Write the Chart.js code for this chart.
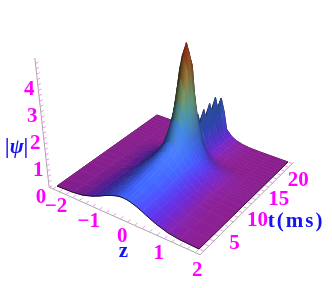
<!DOCTYPE html>
<html>
<head>
<meta charset="utf-8">
<style>
  html, body { margin: 0; background: #fff; }
  canvas { display: block; }
</style>
<script src="https://cdn.jsdelivr.net/npm/chart.js@4"></script>
</head>
<body>
<canvas id="mainChart" width="332" height="288"></canvas>
<script>
var zValues = [-2, -1.5, -1.2, -0.9, -0.7, -0.5, -0.35, -0.2, -0.1, 0, 0.1, 0.2, 0.35, 0.5, 0.7, 0.9, 1.2, 1.5, 2];
var tValues = [0, 2, 4, 6, 7, 8, 9, 10, 10.5, 11, 11.5, 12, 12.5, 13, 13.5, 14, 14.7, 15.3, 16, 16.65, 17.3, 17.95, 18.6, 19.3, 20];

// |psi|, one row per t, one column per z
var heights = [
  [0, .03, .09, .22, .34, .48, .57, .64, .67, .68, .67, .64, .57, .48, .34, .22, .09, .03, 0],
  [0, .03, .09, .22, .35, .50, .60, .68, .71, .72, .71, .68, .60, .50, .35, .22, .09, .03, 0],
  [0, .02, .07, .20, .35, .52, .64, .73, .77, .78, .77, .73, .64, .52, .35, .20, .07, .02, 0],
  [0, .02, .07, .20, .36, .56, .70, .82, .87, .88, .87, .82, .70, .56, .36, .20, .07, .02, 0],
  [0, .01, .05, .19, .36, .58, .74, .88, .93, .95, .93, .88, .74, .58, .36, .19, .05, .01, 0],
  [0, .01, .04, .15, .33, .58, .79, .96, 1.03, 1.05, 1.03, .96, .79, .58, .33, .15, .04, .01, 0],
  [0, .02, .06, .20, .36, .60, .84, 1.11, 1.25, 1.3, 1.25, 1.11, .84, .60, .36, .20, .06, .02, 0],
  [0, .02, .06, .20, .36, .62, .96, 1.5, 1.87, 2.0, 1.87, 1.5, .96, .62, .36, .20, .06, .02, 0],
  [0, .02, .06, .20, .36, .61, 1.0, 1.72, 2.35, 2.6, 2.35, 1.72, 1.0, .61, .36, .20, .06, .02, 0],
  [0, .02, .06, .20, .36, .62, 1.05, 2.0, 2.95, 3.3, 2.95, 2.0, 1.05, .62, .36, .20, .06, .02, 0],
  [0, .02, .06, .19, .33, .60, 1.1, 2.45, 3.6, 4.05, 3.6, 2.45, 1.1, .60, .33, .19, .06, .02, 0],
  [0, .02, .06, .18, .31, .56, 1.1, 2.6, 4.0, 4.5, 4.0, 2.6, 1.1, .56, .31, .18, .06, .02, 0],
  [0, .01, .05, .16, .27, .50, 1.0, 2.35, 3.65, 4.1, 3.65, 2.35, 1.0, .50, .27, .16, .05, .01, 0],
  [0, .01, .04, .13, .22, .43, .85, 1.8, 2.65, 3.0, 2.65, 1.8, .85, .43, .22, .13, .04, .01, 0],
  [0, .01, .03, .09, .15, .30, .62, 1.25, 1.8, 2.0, 1.8, 1.25, .62, .30, .15, .09, .03, .01, 0],
  [0, 0, .02, .06, .11, .22, .43, .87, 1.2, 1.35, 1.2, .87, .43, .22, .11, .06, .02, 0, 0],
  [0, 0, 0, .01, .04, .10, .20, .40, 1.05, 1.5, 1.05, .40, .20, .10, .04, .01, 0, 0, 0],
  [0, 0, 0, .01, .04, .09, .18, .33, .75, 1.05, .75, .33, .18, .09, .04, .01, 0, 0, 0],
  [0, 0, 0, .01, .04, .10, .20, .40, 1.05, 1.5, 1.05, .40, .20, .10, .04, .01, 0, 0, 0],
  [0, 0, 0, .01, .04, .09, .18, .33, .75, 1.05, .75, .33, .18, .09, .04, .01, 0, 0, 0],
  [0, 0, 0, .01, .04, .10, .20, .41, 1.08, 1.55, 1.08, .41, .20, .10, .04, .01, 0, 0, 0],
  [0, 0, 0, .01, .04, .09, .18, .33, .78, 1.1, .78, .33, .18, .09, .04, .01, 0, 0, 0],
  [0, 0, 0, .01, .04, .10, .20, .42, 1.12, 1.6, 1.12, .42, .20, .10, .04, .01, 0, 0, 0],
  [0, 0, 0, .01, .04, .09, .18, .33, .78, 1.1, .78, .33, .18, .09, .04, .01, 0, 0, 0],
  [0, 0, 0, .01, .04, .10, .20, .38, .98, 1.4, .98, .38, .20, .10, .04, .01, 0, 0, 0]
];

var zTicks = [-2, -1, 0, 1, 2];
var tTicks = [5, 10, 15, 20];
var psiTicks = [0, 1, 2, 3, 4];

// colour of the surface by height, before shading
var heightStops = [
  [0, 139, 31, 143], [0.25, 92, 40, 205], [0.7, 60, 95, 250], [1.3, 72, 130, 250],
  [1.9, 70, 160, 215], [2.5, 115, 185, 130], [3.1, 170, 165, 75], [3.8, 175, 95, 35], [4.6, 150, 25, 25]
];

// floor corners on the page: (-2,0) (2,0) (2,20) (-2,20)
var corners = [[57, 186], [199, 249], [288, 162], [157, 115]];
var vanish = [170, 1280];
var heightScale = 0.0246;

var x0 = corners[0][0], y0 = corners[0][1], x1 = corners[1][0], y1 = corners[1][1],
  x2 = corners[2][0], y2 = corners[2][1], x3 = corners[3][0], y3 = corners[3][1];
var dx3 = x0 - x1 + x2 - x3, dy3 = y0 - y1 + y2 - y3,
  dx1 = x1 - x2, dx2 = x3 - x2, dy1 = y1 - y2, dy2 = y3 - y2,
  den = dx1 * dy2 - dx2 * dy1,
  g = (dx3 * dy2 - dx2 * dy3) / den,
  h = (dx1 * dy3 - dx3 * dy1) / den;

function project (z, t, psi) {
  var u = (z + 2) / 4, v = t / 20;
  var w = g * u + h * v + 1;
  var bx = ((x1 - x0 + g * x1) * u + (x3 - x0 + h * x3) * v + x0) / w;
  var by = ((y1 - y0 + g * y1) * u + (y3 - y0 + h * y3) * v + y0) / w;
  var k = (psi || 0) * heightScale;
  return {x: bx + (bx - vanish[0]) * k, y: by + (by - vanish[1]) * k};
}

function baseColor (psi) {
  for (var i = 1; i < heightStops.length; i++) {
    if (psi <= heightStops[i][0]) {
      var a = heightStops[i - 1], b = heightStops[i];
      var f = (psi - a[0]) / (b[0] - a[0]);
      return [a[1] + (b[1] - a[1]) * f, a[2] + (b[2] - a[2]) * f, a[3] + (b[3] - a[3]) * f];
    }
  }
  var last = heightStops[heightStops.length - 1];
  return [last[1], last[2], last[3]];
}

function vertexColor (i, j) {
  var row = heights[i];
  var jl = Math.max(j - 1, 0), jr = Math.min(j + 1, zValues.length - 1);
  var il = Math.max(i - 1, 0), ir = Math.min(i + 1, tValues.length - 1);
  var dz = (row[jr] - row[jl]) / (zValues[jr] - zValues[jl]) * 4 / 4.8;
  var dt = (heights[ir][j] - heights[il][j]) / (tValues[ir] - tValues[il]) * 20 / 4.8;
  var len = Math.sqrt(dz * dz + dt * dt + 1);
  // light comes from the +z, -t side
  var dot = (-dz * 0.5 + dt * 0.3 + 0.8) / len;
  var shade = 0.3 + 0.7 * Math.min(Math.max(dot, 0) / 0.8, 1.15);
  // the small spikes behind the peak have dark tips
  if (tValues[i] > 14) {
    var up = i === tValues.length - 1 ? heights[i - 1][j] : heights[i + 1][j];
    var bend = up + heights[i - 1][j] - 2 * row[j];
    if (bend < 0) {
      shade *= Math.max(1 + bend * 0.85, 0.22);
    }
  }
  return baseColor(row[j]).map(function (c) { return Math.min(255, c * shade); });
}

function mix (a, b) {
  return [(a[0] + b[0]) / 2, (a[1] + b[1]) / 2, (a[2] + b[2]) / 2];
}

function css (c) {
  return 'rgb(' + Math.round(c[0]) + ',' + Math.round(c[1]) + ',' + Math.round(c[2]) + ')';
}

var ctx = document.getElementById('mainChart');
var ctx2d = ctx.getContext('2d');
var datasets = [];

function addLine (points, color, width) {
  datasets.push({
    data: points,
    showLine: true,
    fill: false,
    borderColor: color,
    borderWidth: width,
    pointRadius: 0,
    tension: 0
  });
}

function edge (fn, count) {
  var pts = [];
  for (var n = 0; n < count; n++) {
    pts.push(fn(n));
  }
  return pts;
}

// gradient across a quad, its colour lines running along the t edges
function quadGradient (p00, p10, p11, p01) {
  var mx0 = (p00.x + p01.x) / 2, my0 = (p00.y + p01.y) / 2;
  var mx1 = (p10.x + p11.x) / 2, my1 = (p10.y + p11.y) / 2;
  var ex = p01.x - p00.x + p11.x - p10.x, ey = p01.y - p00.y + p11.y - p10.y;
  var nx = -ey, ny = ex;
  var nn = nx * nx + ny * ny;
  var s = ((mx1 - mx0) * nx + (my1 - my0) * ny) / nn;
  if (!isFinite(s) || Math.abs(s) * Math.sqrt(nn) < 0.05) {
    return ctx2d.createLinearGradient(mx0, my0, mx1 + 0.01, my1 + 0.01);
  }
  return ctx2d.createLinearGradient(mx0, my0, mx0 + nx * s, my0 + ny * s);
}

// back edges go first so the peak covers them
addLine(edge(function (i) {
  return project(-2, tValues[i], heights[i][0]);
}, tValues.length), '#2a1030', 1);
addLine(edge(function (j) {
  return project(zValues[j], 20, heights[tValues.length - 1][j]);
}, zValues.length), '#2a1030', 1);

for (var i = tValues.length - 2; i >= 0; i--) {
  for (var j = 0; j < zValues.length - 1; j++) {
    var za = zValues[j], zb = zValues[j + 1], ta = tValues[i], tb = tValues[i + 1];
    var p00 = project(za, ta, heights[i][j]);
    var p10 = project(zb, ta, heights[i][j + 1]);
    var p11 = project(zb, tb, heights[i + 1][j + 1]);
    var p01 = project(za, tb, heights[i + 1][j]);
    var grad = quadGradient(p00, p10, p11, p01);
    grad.addColorStop(0, css(mix(vertexColor(i, j), vertexColor(i + 1, j))));
    grad.addColorStop(1, css(mix(vertexColor(i, j + 1), vertexColor(i + 1, j + 1))));
    datasets.push({
      data: [p00, p10, p11, p01, p00],
      showLine: true,
      fill: 'shape',
      backgroundColor: grad,
      borderColor: grad,
      borderWidth: 0.7,
      pointRadius: 0,
      tension: 0
    });
  }
}

// front edges
addLine(edge(function (j) {
  return project(zValues[j], 0, heights[0][j]);
}, zValues.length), '#1c0c28', 1);
addLine(edge(function (i) {
  return project(2, tValues[i], heights[i][zValues.length - 1]);
}, tValues.length), '#2a1030', 1);

// axis lines, a bit outside the floor
var axisZ = 2.12, axisT = -0.7, axisLeft = -2.12;
addLine([project(axisLeft, axisT, 0), project(axisZ, axisT, 0), project(axisZ, 20.3, 0)], '#a8a8a8', 1);
addLine([project(axisLeft, axisT, 0), project(axisLeft, axisT, 4.8)], '#a8a8a8', 1);

var tickMarks = [], n, a, b;
for (n = -2; n <= 2.001; n += 0.2) {
  a = project(n, axisT, 0);
  b = project(n, axisT + 0.55, 0);
  tickMarks.push(a, b, {x: NaN, y: NaN});
}
for (n = 0; n <= 20; n += 1) {
  a = project(axisZ, n, 0);
  b = project(axisZ - 0.1, n, 0);
  tickMarks.push(a, b, {x: NaN, y: NaN});
}
for (n = 0; n <= 4.8; n += 0.2) {
  a = project(axisLeft, axisT, n);
  b = {x: a.x + 3, y: a.y - 1.5};
  tickMarks.push(a, b, {x: NaN, y: NaN});
}
addLine(tickMarks, '#f090f0', 1);

datasets.reverse();

var magenta = '#ff00ff', blue = '#1414f0';

function label (chart, text, point, dx, dy, font, color, spacing) {
  var c = chart.ctx;
  c.font = font;
  c.fillStyle = color;
  c.textAlign = 'center';
  c.textBaseline = 'middle';
  c.letterSpacing = spacing || '0px';
  c.fillText(text, chart.scales.x.getPixelForValue(point.x) + dx, chart.scales.y.getPixelForValue(point.y) + dy);
}

var tickFont = 'bold 21px "Liberation Serif"';

var labels = {
  id: 'labels',
  afterDraw: function (chart) {
    zTicks.forEach(function (z) {
      label(chart, z < 0 ? '\u2212' + (-z) : String(z), project(z, axisT, 0), z < 0 ? 3 : 2, 18, tickFont, magenta);
    });
    tTicks.forEach(function (t) {
      label(chart, String(t), project(axisZ, t, 0), 6, 17, tickFont, magenta);
    });
    psiTicks.forEach(function (p) {
      label(chart, String(p), project(axisLeft, axisT, p), -8, 10, tickFont, magenta);
    });
    label(chart, '|\u03c8|', project(axisLeft, axisT, 1.5), -28, 1, 'italic bold 21px "Liberation Serif"', blue);
    label(chart, 'z', project(0, axisT, 0), 3, 33, tickFont, blue);
    label(chart, 't(ms)', project(axisZ, 12, 0), 36, 26, tickFont, blue, '2px');
  }
};

var myChart = new Chart(ctx, {
  type: 'scatter',
  data: {datasets: datasets},
  options: {
    responsive: false,
    animation: false,
    events: [],
    plugins: {
      legend: {display: false},
      tooltip: {enabled: false}
    },
    scales: {
      x: {type: 'linear', display: false, min: 0, max: 332},
      y: {type: 'linear', display: false, min: 0, max: 288, reverse: true}
    }
  },
  plugins: [labels]
});
</script>
</body>
</html>
